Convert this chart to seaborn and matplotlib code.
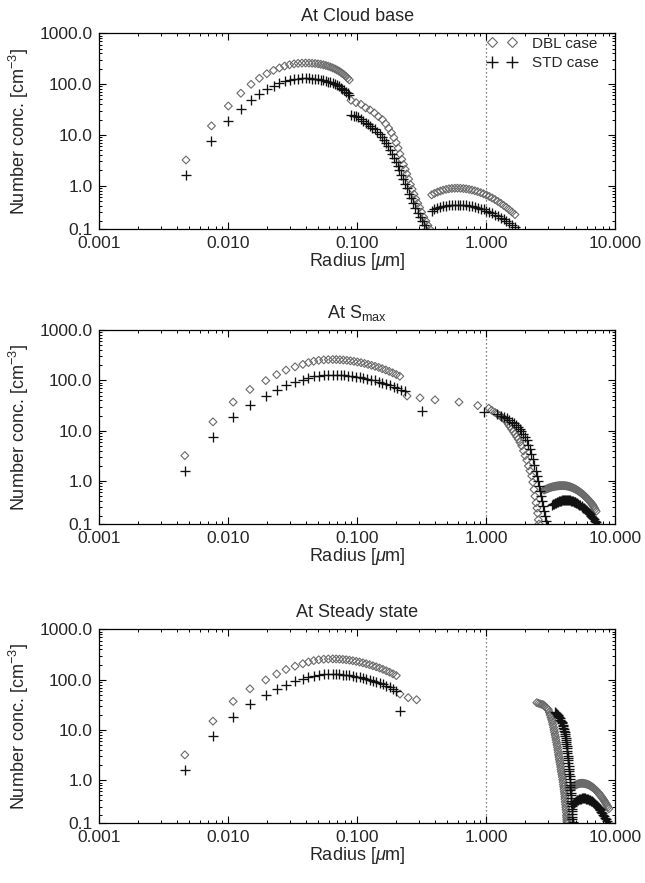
import numpy as np
import pandas as pd
import matplotlib
matplotlib.use("Agg")
import matplotlib.pyplot as plt
import seaborn as sns
from matplotlib.lines import Line2D
from matplotlib.ticker import FixedLocator, FixedFormatter, LogLocator, NullFormatter

# ---------------- data ----------------
# mode-1 concentrations (same bins in every panel)
N1_DBL = [3.2, 15, 37, 66, 99, 130, 160, 186, 208, 226, 240, 250, 256, 259, 260, 259, 257,
          254, 250, 245, 239, 232, 225, 217, 208, 199, 190, 181, 171, 161, 151, 141, 131, 121]
N1_STD = [1.6, 7.5, 18.5, 33, 49, 65, 80, 93, 104, 113, 120, 125, 128, 129.5, 130, 129.5, 128.5,
          127, 125, 122, 119, 116, 112, 108, 104, 99.5, 95, 90, 85.5, 80.5, 75.5, 70.5, 65.5, 60.5]

# ---- panel 1 : At Cloud base ----
P1_R1 = [0.0047, 0.0074, 0.0100, 0.0125, 0.0150, 0.0174, 0.0199, 0.0224, 0.0249, 0.0273, 0.0298,
         0.0323, 0.0347, 0.0372, 0.0397, 0.0422, 0.0446, 0.0471, 0.0496, 0.0520, 0.0545, 0.0570,
         0.0594, 0.0619, 0.0644, 0.0669, 0.0693, 0.0718, 0.0743, 0.0767, 0.0792, 0.0817, 0.0841, 0.0866]
P1_DBL_R2 = [0.0893, 0.0977, 0.1067, 0.1161, 0.1253, 0.1355, 0.1455, 0.1563, 0.166, 0.175, 0.184,
             0.192, 0.200, 0.207, 0.214, 0.221, 0.228, 0.235, 0.242, 0.250, 0.258, 0.266, 0.275,
             0.284, 0.294, 0.304, 0.315, 0.327, 0.340, 0.353, 0.366]
P1_DBL_N2 = [48, 43, 40, 34, 31, 27, 23, 20, 16.5, 13.5, 11, 8.8, 7.0, 5.5, 4.2, 3.3, 2.6, 2.1, 1.7,
             1.35, 1.05, 0.85, 0.68, 0.55, 0.45, 0.37, 0.3, 0.24, 0.2, 0.165, 0.138]
P1_STD_R2 = [0.0896, 0.0935, 0.0975, 0.1015, 0.106, 0.111, 0.116, 0.121, 0.126, 0.131, 0.137, 0.143,
             0.149, 0.155, 0.161, 0.167, 0.173, 0.179, 0.185, 0.191, 0.198, 0.205, 0.212, 0.219,
             0.227, 0.235, 0.244, 0.253, 0.262, 0.272, 0.282, 0.293, 0.305, 0.317, 0.33, 0.343]
P1_STD_N2 = [25, 24, 23, 22, 20.5, 19, 17.5, 16.2, 15, 13.8, 12.8, 11.6, 10.5, 9.2, 8.0, 6.9, 5.9,
             5.0, 4.2, 3.5, 2.9, 2.4, 2.0, 1.65, 1.35, 1.1, 0.88, 0.7, 0.56, 0.45, 0.36, 0.29, 0.24,
             0.2, 0.165, 0.14]
P1_DBL_R3 = [0.377, 0.396, 0.418, 0.440, 0.462, 0.488, 0.513, 0.540, 0.569, 0.598, 0.630, 0.664,
             0.698, 0.735, 0.774, 0.815, 0.857, 0.904, 0.951, 1.0, 1.052, 1.109, 1.167, 1.227,
             1.294, 1.361, 1.432, 1.507, 1.585, 1.667]
P1_DBL_N3 = [0.658, 0.702, 0.745, 0.783, 0.815, 0.844, 0.866, 0.881, 0.889, 0.891, 0.887, 0.877,
             0.863, 0.844, 0.820, 0.793, 0.762, 0.727, 0.691, 0.653, 0.614, 0.572, 0.531, 0.490,
             0.449, 0.409, 0.372, 0.335, 0.301, 0.269]
P1_STD_R3 = [0.377, 0.396, 0.418, 0.440, 0.462, 0.488, 0.513, 0.540, 0.569, 0.598, 0.630, 0.664,
             0.698, 0.735, 0.774, 0.815, 0.857, 0.904, 0.951, 1.0, 1.052, 1.109, 1.167, 1.227,
             1.294, 1.361, 1.432, 1.507, 1.585, 1.667, 1.758]
P1_STD_N3 = [0.322, 0.341, 0.360, 0.376, 0.390, 0.402, 0.411, 0.417, 0.421, 0.422, 0.420, 0.416,
             0.410, 0.402, 0.393, 0.381, 0.368, 0.354, 0.339, 0.323, 0.306, 0.287, 0.270, 0.252,
             0.233, 0.216, 0.198, 0.181, 0.165, 0.150, 0.135]

# ---- panel 2 : At S_max ----
P2_R1 = [0.0046, 0.0076, 0.0109, 0.0147, 0.0195, 0.0237, 0.0280, 0.0329, 0.0378, 0.0418, 0.0459,
         0.0502, 0.0549, 0.0596, 0.0645, 0.0687, 0.0732, 0.0779, 0.0830, 0.0884, 0.0941, 0.1002,
         0.1068, 0.1137, 0.1211, 0.1290, 0.1373, 0.1463, 0.1558, 0.1659, 0.1767, 0.1882, 0.2004, 0.2134]
P2_STD_R1 = [0.0046, 0.0076, 0.0109, 0.0147, 0.0195, 0.0237, 0.0280, 0.0329, 0.0378, 0.0418, 0.0459,
             0.0502, 0.0549, 0.0596, 0.0650, 0.0695, 0.0743, 0.0794, 0.0850, 0.0909, 0.0973, 0.1041,
             0.1114, 0.1192, 0.1276, 0.1365, 0.1460, 0.1562, 0.1671, 0.1788, 0.1913, 0.2047, 0.2190, 0.2343]
P2_DBL_R2 = [0.243, 0.306, 0.40, 0.614, 0.857, 1.045, 1.10, 1.17, 1.22, 1.27, 1.31, 1.36, 1.40, 1.44,
             1.48, 1.52, 1.57, 1.62, 1.67, 1.72, 1.77, 1.82, 1.88, 1.94, 2.00, 2.06, 2.12, 2.18, 2.25,
             2.29, 2.34, 2.38, 2.43, 2.47, 2.50, 2.53, 2.56]
P2_DBL_N2 = [49, 45, 41, 37, 31.6, 28, 25.5, 23, 21.3, 20, 18.6, 17.5, 16.5, 15.0, 13.6, 12.2, 10.8,
             9.6, 8.6, 7.6, 6.8, 5.9, 5.0, 4.0, 3.2, 2.6, 2.0, 1.6, 1.26, 0.95, 0.68, 0.50, 0.37,
             0.29, 0.23, 0.17, 0.14]
P2_STD_R2 = [0.318, 0.966, 1.20, 1.30, 1.38, 1.44, 1.50, 1.57, 1.63, 1.69, 1.75, 1.81, 1.87, 1.93,
             1.99, 2.05, 2.11, 2.17, 2.23, 2.29, 2.35, 2.41, 2.46, 2.51, 2.56, 2.61, 2.66, 2.71, 2.76,
             2.81, 2.86, 2.91, 2.95]
P2_STD_N2 = [24.4, 23.3, 21, 20, 18.5, 17.5, 16.3, 15, 14, 13, 11.8, 10.8, 9.7, 8.6, 7.4, 6.4, 5.3,
             4.3, 3.5, 2.8, 2.1, 1.6, 1.25, 1.0, 0.78, 0.62, 0.5, 0.40, 0.32, 0.25, 0.2, 0.16, 0.135]
P2_DBL_R3 = [2.80, 2.845, 2.89, 2.94, 2.99, 3.035, 3.08, 3.13, 3.18, 3.235, 3.29, 3.345, 3.40, 3.455,
             3.51, 3.565, 3.62, 3.68, 3.74, 3.80, 3.86, 3.925, 3.99, 4.055, 4.12, 4.185, 4.25, 4.32,
             4.39, 4.46, 4.53, 4.605, 4.68, 4.755, 4.83, 4.91, 4.99, 5.07, 5.15, 5.235, 5.32, 5.41,
             5.50, 5.59, 5.68, 5.77, 5.86, 5.955, 6.05, 6.15, 6.25, 6.355, 6.46, 6.555, 6.65, 6.76,
             6.87, 6.985, 7.10]
P2_DBL_N3 = [0.661, 0.674, 0.687, 0.699, 0.711, 0.722, 0.733, 0.743, 0.753, 0.762, 0.770, 0.778,
             0.785, 0.791, 0.796, 0.801, 0.805, 0.808, 0.811, 0.812, 0.813, 0.812, 0.811, 0.808,
             0.805, 0.800, 0.794, 0.786, 0.778, 0.768, 0.758, 0.746, 0.733, 0.719, 0.705, 0.690,
             0.674, 0.657, 0.639, 0.621, 0.603, 0.585, 0.566, 0.547, 0.527, 0.508, 0.488, 0.469,
             0.449, 0.430, 0.410, 0.392, 0.373, 0.356, 0.339, 0.317, 0.295, 0.272, 0.25]
P2_STD_R3 = [3.21, 3.27, 3.33, 3.39, 3.45, 3.51, 3.57, 3.635, 3.70, 3.77, 3.84, 3.905, 3.97, 4.045,
             4.12, 4.195, 4.27, 4.345, 4.42, 4.50, 4.58, 4.66, 4.74, 4.825, 4.91, 5.00, 5.09, 5.18,
             5.27, 5.37, 5.47, 5.565, 5.66, 5.76, 5.86, 5.97, 6.08, 6.19, 6.30, 6.41, 6.52, 6.64,
             6.76, 6.88, 7.00, 7.12, 7.24, 7.38, 7.52]
P2_STD_N3 = [0.330, 0.342, 0.353, 0.364, 0.374, 0.383, 0.391, 0.398, 0.405, 0.410, 0.415, 0.418,
             0.421, 0.422, 0.422, 0.421, 0.419, 0.416, 0.413, 0.408, 0.403, 0.397, 0.391, 0.384,
             0.376, 0.367, 0.358, 0.349, 0.340, 0.329, 0.318, 0.307, 0.296, 0.285, 0.274, 0.262,
             0.250, 0.239, 0.228, 0.217, 0.206, 0.194, 0.183, 0.173, 0.163, 0.153, 0.143, 0.136, 0.13]

# ---- panel 3 : At Steady state ----
P3_R1 = [0.0046, 0.0076, 0.0109, 0.0147, 0.0195, 0.0237, 0.0280, 0.0329, 0.0378, 0.0418, 0.0459,
         0.0502, 0.0549, 0.0596, 0.0645, 0.0685, 0.0727, 0.0772, 0.0819, 0.0869, 0.0923, 0.0980,
         0.1040, 0.1104, 0.1172, 0.1244, 0.1320, 0.1401, 0.1488, 0.1579, 0.1676, 0.1779, 0.1889, 0.2005]
P3_DBL_R2 = [0.214, 0.248, 0.288,
             2.46, 2.54, 2.62, 2.70, 2.77, 2.84, 2.90, 2.97, 3.03, 3.08, 3.12, 3.17, 3.21, 3.25,
             3.28, 3.32, 3.35, 3.38, 3.41, 3.44, 3.47, 3.50, 3.53, 3.56, 3.58, 3.61, 3.63, 3.66,
             3.68, 3.71, 3.74, 3.77, 3.79, 3.82, 3.85, 3.88, 3.91, 3.94, 3.96, 3.98, 4.00, 4.02,
             4.04, 4.06, 4.07, 4.09, 4.11, 4.13, 4.15, 4.17, 4.18, 4.19, 4.20, 4.21, 4.22]
P3_DBL_N2 = [52, 44, 40,
             35, 34, 33, 32.3, 31.6, 29.8, 28, 26.5, 25, 22.4, 20, 17.9, 16, 14.3, 12.8, 11.3, 10,
             9, 8, 7.2, 6.4, 5.7, 5.1, 4.55, 4.05, 3.6, 3.2, 2.87, 2.57, 2.3, 2.05, 1.83, 1.63,
             1.46, 1.3, 1.16, 1.03, 0.92, 0.82, 0.74, 0.66, 0.59, 0.53, 0.47, 0.42, 0.37, 0.33,
             0.29, 0.26, 0.23, 0.2, 0.183, 0.166, 0.153, 0.14]
P3_STD_R2 = [0.216,
             3.41, 3.47, 3.52, 3.57, 3.62, 3.67, 3.71, 3.75, 3.79, 3.83, 3.86, 3.90, 3.93, 3.96,
             3.99, 4.02, 4.04, 4.07, 4.09, 4.11, 4.13, 4.15, 4.17, 4.19, 4.21, 4.23, 4.25, 4.27,
             4.29, 4.31, 4.33, 4.35, 4.37, 4.385, 4.40, 4.415, 4.43, 4.445, 4.46, 4.475, 4.49,
             4.505, 4.52, 4.535, 4.55, 4.565, 4.58, 4.595, 4.61, 4.625, 4.64, 4.655, 4.67, 4.685, 4.70]
P3_STD_N2 = [24,
             23, 22, 21, 20, 19, 18, 17, 16, 15, 14.2, 13.5, 12.7, 12, 11.2, 10.5, 9.7, 9, 8.3,
             7.6, 7.0, 6.4, 5.8, 5.3, 4.8, 4.3, 3.9, 3.5, 3.1, 2.8, 2.5, 2.2, 1.95, 1.7, 1.52,
             1.35, 1.2, 1.05, 0.93, 0.82, 0.72, 0.64, 0.57, 0.5, 0.44, 0.39, 0.35, 0.31, 0.27,
             0.24, 0.215, 0.19, 0.17, 0.15, 0.14, 0.13]
P3_DBL_R3 = [4.59, 4.665, 4.74, 4.815, 4.89, 4.97, 5.05, 5.13, 5.21, 5.29, 5.37, 5.46, 5.55, 5.64,
             5.73, 5.82, 5.92, 6.01, 6.10, 6.20, 6.30, 6.40, 6.50, 6.60, 6.70, 6.81, 6.92, 7.03,
             7.14, 7.26, 7.38, 7.49, 7.60, 7.72, 7.85, 7.98, 8.11, 8.23, 8.36, 8.49, 8.63, 8.77, 8.91]
P3_DBL_N3 = [0.708, 0.733, 0.757, 0.778, 0.797, 0.815, 0.831, 0.844, 0.855, 0.862, 0.868, 0.870,
             0.871, 0.868, 0.863, 0.856, 0.848, 0.838, 0.826, 0.811, 0.794, 0.776, 0.756, 0.737,
             0.716, 0.693, 0.668, 0.643, 0.617, 0.591, 0.565, 0.540, 0.514, 0.488, 0.461, 0.435,
             0.409, 0.386, 0.362, 0.339, 0.315, 0.293, 0.271]
P3_STD_R3 = [4.73, 4.81, 4.90, 4.98, 5.07, 5.16, 5.25, 5.34, 5.43, 5.52, 5.62, 5.72, 5.82, 5.92,
             6.03, 6.13, 6.24, 6.35, 6.46, 6.57, 6.68, 6.80, 6.92, 7.04, 7.16, 7.28, 7.41, 7.54,
             7.67, 7.80, 7.94, 8.08, 8.22, 8.36, 8.51, 8.66, 8.81, 8.96, 9.12]
P3_STD_N3 = [0.333, 0.350, 0.367, 0.382, 0.396, 0.407, 0.418, 0.425, 0.432, 0.435, 0.437, 0.436,
             0.434, 0.430, 0.425, 0.418, 0.411, 0.402, 0.392, 0.381, 0.369, 0.356, 0.343, 0.329,
             0.314, 0.299, 0.284, 0.269, 0.253, 0.238, 0.223, 0.208, 0.193, 0.180, 0.166, 0.153,
             0.140, 0.132, 0.125]

TITLES = ["At Cloud base", "At S$_{\\mathrm{max}}$", "At Steady state"]
XTICKS = [0.001, 0.01, 0.1, 1.0, 10.0]
XTICK_LABELS = ["0.001", "0.010", "0.100", "1.000", "10.000"]
YTICK_LABELS = ["0.1", "1.0", "10.0", "100.0", "1000.0"]
LEGEND_LABELS = ["DBL case", "STD case"]

# ---------------- build tables ----------------
def frame(r_dbl, n_dbl, r_std, n_std):
    d = pd.DataFrame({"r": r_dbl, "n": n_dbl, "case": "DBL"})
    s = pd.DataFrame({"r": r_std, "n": n_std, "case": "STD"})
    return pd.concat([d, s], ignore_index=True)

panels = [
    frame(P1_R1 + P1_DBL_R2 + P1_DBL_R3, N1_DBL + P1_DBL_N2 + P1_DBL_N3,
          P1_R1 + P1_STD_R2 + P1_STD_R3, N1_STD + P1_STD_N2 + P1_STD_N3),
    frame(P2_R1 + P2_DBL_R2 + P2_DBL_R3, N1_DBL + P2_DBL_N2 + P2_DBL_N3,
          P2_STD_R1 + P2_STD_R2 + P2_STD_R3, N1_STD + P2_STD_N2 + P2_STD_N3),
    frame(P3_R1 + P3_DBL_R2 + P3_DBL_R3, N1_DBL + P3_DBL_N2 + P3_DBL_N3,
          P3_R1 + P3_STD_R2 + P3_STD_R3, N1_STD + P3_STD_N2 + P3_STD_N3),
]

# ---------------- style ----------------
sns.set_style("ticks")
plt.rcParams["font.family"] = ["Liberation Sans", "DejaVu Sans"]
plt.rcParams["mathtext.fontset"] = "custom"
plt.rcParams["mathtext.rm"] = "Liberation Sans"
plt.rcParams["mathtext.it"] = "Liberation Sans:italic"
plt.rcParams["mathtext.sf"] = "Liberation Sans"
plt.rcParams["axes.linewidth"] = 0.9
plt.rcParams["axes.edgecolor"] = "black"

DBL_EDGE = "#6a6a6a"
STD_COL = "#111111"
YMIN, YMAX = 0.138, 1000.0

fig = plt.figure(figsize=(6.45, 8.83), dpi=100)
rects = [
    [0.1540, 0.7403, 0.8000, 0.2220],
    [0.1540, 0.4062, 0.8000, 0.2200],
    [0.1540, 0.0674, 0.8000, 0.2197],
]

for i, (df, rect) in enumerate(zip(panels, rects)):
    ax = fig.add_axes(rect)
    d = df[df["case"] == "DBL"]
    s = df[df["case"] == "STD"]
    sns.scatterplot(data=d, x="r", y="n", ax=ax, marker="D", s=16,
                    facecolor="none", edgecolor=DBL_EDGE, linewidth=0.8, legend=False)
    sns.scatterplot(data=s, x="r", y="n", ax=ax, marker="+", s=42,
                    color=STD_COL, linewidth=0.95, legend=False)
    ax.set_xscale("log")
    ax.set_yscale("log")
    ax.set_xlim(0.001, 10.0)
    ax.set_ylim(YMIN, YMAX)
    ax.axvline(1.0, color="#555555", linestyle=(0, (1, 2.2)), linewidth=0.9, zorder=0)

    ax.xaxis.set_major_locator(FixedLocator(XTICKS))
    ax.xaxis.set_major_formatter(FixedFormatter(XTICK_LABELS))
    ax.xaxis.set_minor_locator(LogLocator(base=10, subs=np.arange(2, 10)))
    ax.xaxis.set_minor_formatter(NullFormatter())
    ax.yaxis.set_major_locator(FixedLocator([YMIN, 1.0, 10.0, 100.0, 1000.0]))
    ax.yaxis.set_major_formatter(FixedFormatter(YTICK_LABELS))
    ax.yaxis.set_minor_locator(LogLocator(base=10, subs=np.arange(2, 10)))
    ax.yaxis.set_minor_formatter(NullFormatter())
    ax.tick_params(which="both", direction="in", top=True, right=True, color="black")
    ax.tick_params(which="major", length=5, width=0.8, labelsize=12.5, pad=5)
    ax.tick_params(which="minor", length=2.5, width=0.7)

    ax.set_title(TITLES[i], fontsize=13, pad=9)
    ax.set_xlabel("Radius [$\\mu$m]", fontsize=13, labelpad=0)
    ax.set_ylabel("Number conc. [cm$^{-3}$]", fontsize=13)
    ax.yaxis.set_label_coords(-0.133, 0.5)

    if i == 0:
        handles = [
            Line2D([], [], marker="D", linestyle="none", markerfacecolor="none",
                   markeredgecolor=DBL_EDGE, markersize=5.5, markeredgewidth=0.8),
            Line2D([], [], marker="+", linestyle="none", color=STD_COL,
                   markersize=8, markeredgewidth=1.0),
        ]
        ax.legend(handles, LEGEND_LABELS, loc="upper right", bbox_to_anchor=(0.985, 1.03),
                  frameon=False, numpoints=2, fontsize=11, handlelength=1.9,
                  handletextpad=1.0, labelspacing=0.35, borderaxespad=0.2)

fig.savefig("out.png", dpi=100, facecolor="white")
